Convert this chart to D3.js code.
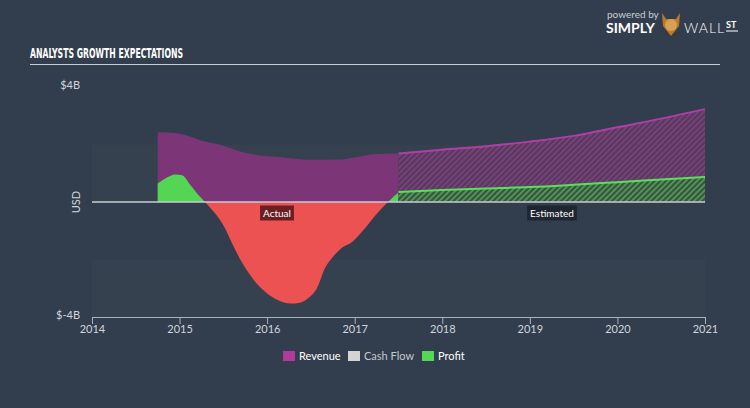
<!DOCTYPE html>
<html><head><meta charset="utf-8">
<script src="https://cdn.jsdelivr.net/npm/d3@7/dist/d3.min.js"></script>
<style>
html,body{margin:0;padding:0;background:#323e4d;}
svg{display:block;}
text{font-family:Lato,"Open Sans",sans-serif;}
</style></head>
<body>
<svg id="chart" width="750" height="408"></svg>
<script>
// ---- data ----
const xTicks = [2014, 2015, 2016, 2017, 2018, 2019, 2020, 2021];
const yTickLabels = [["$4B", 4], ["$-4B", -4]];
const revenueActual = [[2014.75,2.43],[2014.95,2.40],[2015.1,2.30],[2015.27,2.12],[2015.46,1.99],[2015.69,1.76],[2015.9,1.63],[2016.1,1.57],[2016.46,1.47],[2016.84,1.48],[2017.0,1.55],[2017.22,1.66],[2017.5,1.69]];
const revenueEstimated = [[2017.5,1.69],[2018,1.82],[2018.5,1.94],[2019,2.10],[2019.5,2.30],[2020,2.60],[2020.5,2.90],[2021,3.23]];
const profitActual = [[2014.75,0.64],[2014.85,0.84],[2014.95,0.96],[2015.03,0.93],[2015.12,0.60],[2015.2,0.30],[2015.29,0],[2015.52,-0.92],[2015.61,-1.5],[2015.71,-2.09],[2015.83,-2.64],[2015.98,-3.13],[2016.12,-3.41],[2016.27,-3.53],[2016.375,-3.50],[2016.47,-3.34],[2016.57,-2.99],[2016.66,-2.30],[2016.74,-1.95],[2016.85,-1.60],[2016.97,-1.39],[2017.12,-0.90],[2017.27,-0.35],[2017.38,0],[2017.5,0.33]];
const profitEstimated = [[2017.5,0.35],[2018,0.42],[2018.5,0.47],[2019,0.52],[2019.5,0.60],[2020,0.69],[2020.5,0.78],[2021,0.87]];
const legendItems = [["Revenue","#b03a9a","#ffffff"],["Cash Flow","#d4d4d4","#c4c9cf"],["Profit","#55d655","#ffffff"]];
const bands = [[0,2],[-4,-2]];

const svg = d3.select("#chart");
const x = d3.scaleLinear().domain([2014, 2021]).range([92, 705]);
const y = d3.scaleLinear().domain([-4, 4]).range([317, 87]);

// defs: hatch patterns and clips
const defs = svg.append("defs");
function hatch(id, base, stripe){
  const p = defs.append("pattern").attr("id", id).attr("patternUnits","userSpaceOnUse")
    .attr("width",4).attr("height",4).attr("patternTransform","rotate(45)");
  p.append("rect").attr("width",4).attr("height",4).attr("fill",base);
  p.append("rect").attr("width",1.6).attr("height",4).attr("fill",stripe);
}
hatch("hRev", "#5c3662", "#774878");
hatch("hProf", "#36553f", "#5aa05e");
defs.append("clipPath").attr("id","above").append("rect")
  .attr("x",0).attr("y",0).attr("width",750).attr("height",y(0));
defs.append("clipPath").attr("id","below").append("rect")
  .attr("x",0).attr("y",y(0)).attr("width",750).attr("height",408-y(0));

// background bands
svg.selectAll("rect.band").data(bands).enter().append("rect")
  .attr("class","band")
  .attr("x", x(2014)).attr("width", x(2021)-x(2014))
  .attr("y", d => y(d[1])).attr("height", d => y(d[0]) - y(d[1]))
  .attr("fill", "#35414f");

// title
svg.append("text").attr("x",30).attr("y",58).text("ANALYSTS GROWTH EXPECTATIONS")
  .attr("fill","#ffffff").attr("font-size",14.5).attr("font-weight","bold")
  .style("font-family","'DejaVu Sans Condensed','Liberation Sans Narrow',sans-serif")
  .attr("textLength",153).attr("lengthAdjust","spacingAndGlyphs");
svg.append("line").attr("x1",30).attr("x2",720).attr("y1",64.5).attr("y2",64.5)
  .attr("stroke","#c9ced6").attr("stroke-width",1.2);

// logo
svg.append("text").attr("x",607).attr("y",18).text("powered by").attr("fill","#c9ced4").attr("font-size",10);
svg.append("text").attr("x",606).attr("y",33).text("SIMPLY").attr("fill","#ffffff").attr("font-size",14).attr("font-weight","bold");
const logo = svg.append("g").attr("transform","translate(671,24)");
logo.append("path").attr("d","M-9,-11 L-5,-5 L5,-5 L9,-11 L8,2 L0,12 L-8,2 Z").attr("fill","#b87a2c");
logo.append("circle").attr("cx",0).attr("cy",1).attr("r",6).attr("fill","#d8a050");
logo.append("path").attr("d","M-7,8 L0,13 L7,8 L7,12 L-7,12 Z").attr("fill","#3a3a3a");
svg.append("text").attr("x",684).attr("y",33).text("WALL").attr("fill","#ffffff").attr("font-size",14).attr("font-weight","300").attr("letter-spacing",1);
svg.append("text").attr("x",726).attr("y",28).text("ST").attr("fill","#ffffff").attr("font-size",9).attr("font-weight","bold");
svg.append("line").attr("x1",726).attr("x2",738).attr("y1",31).attr("y2",31).attr("stroke","#fff").attr("stroke-width",1);

// areas
const area = d3.area().x(d => x(d[0])).y0(y(0)).y1(d => y(d[1])).curve(d3.curveMonotoneX);
const line = d3.line().x(d => x(d[0])).y(d => y(d[1])).curve(d3.curveMonotoneX);

svg.append("path").datum(revenueActual).attr("d", area).attr("fill","#7c3677");
svg.append("path").datum(profitActual).attr("d", area).attr("fill","#53d653").attr("clip-path","url(#above)");
svg.append("path").datum(profitActual).attr("d", area).attr("fill","#ec5252").attr("clip-path","url(#below)");

svg.append("path").datum(revenueEstimated).attr("d", area).attr("fill","url(#hRev)");
svg.append("path").datum(profitEstimated).attr("d", area).attr("fill","url(#hProf)");
svg.append("path").datum(revenueEstimated).attr("d", line).attr("fill","none").attr("stroke","#b13ea6").attr("stroke-width",2);
svg.append("path").datum(profitEstimated).attr("d", line).attr("fill","none").attr("stroke","#58e058").attr("stroke-width",2);

// zero line
svg.append("line").attr("x1",x(2014)).attr("x2",x(2021)).attr("y1",y(0)).attr("y2",y(0))
  .attr("stroke","#c7ccd2").attr("stroke-width",1.5);

// x axis
const xAxis = d3.axisBottom(x).tickValues(xTicks).tickFormat(d3.format("d")).tickSize(7).tickSizeOuter(0);
const gx = svg.append("g").attr("transform",`translate(0,${y(-4)})`).call(xAxis);
gx.select(".domain").attr("stroke","#aab3bd").attr("stroke-width",1.2);
gx.selectAll(".tick line").attr("stroke","#aab3bd");
gx.selectAll(".tick text").attr("fill","#d0d5db").attr("font-size",11).attr("dy","0.55em")
  .style("font-family","Lato,sans-serif");

// y labels
svg.selectAll("text.ylab").data(yTickLabels).enter().append("text").attr("class","ylab")
  .attr("x",80).attr("y", d => y(d[1]) + 2).attr("text-anchor","end")
  .attr("fill","#d0d5db").attr("font-size",11).text(d => d[0]);
svg.append("text").attr("transform",`translate(80,${y(0)}) rotate(-90)`)
  .attr("text-anchor","middle").attr("fill","#d0d5db").attr("font-size",11).text("USD");

// Actual / Estimated labels
function tag(label, cx, fill){
  const g = svg.append("g");
  const t = g.append("text").attr("x",cx).attr("y",y(0)+15).attr("text-anchor","middle")
    .attr("fill","#ffffff").attr("font-size",10).text(label);
  const bb = t.node().getBBox();
  g.insert("rect","text").attr("x",bb.x-3).attr("y",bb.y-1.5).attr("width",bb.width+6).attr("height",bb.height+3).attr("fill",fill);
}
tag("Actual", 277, "#6c1f22");
tag("Estimated", 552, "#1f2631");

// legend
const lg = svg.append("g");
const lx = [283, 348, 422];
legendItems.forEach((d,i) => {
  lg.append("rect").attr("x",lx[i]).attr("y",351).attr("width",12).attr("height",10).attr("fill",d[1]);
  lg.append("text").attr("x",lx[i]+16).attr("y",360).attr("fill",d[2]).attr("font-size",11).text(d[0]);
});
</script>
</body></html>
